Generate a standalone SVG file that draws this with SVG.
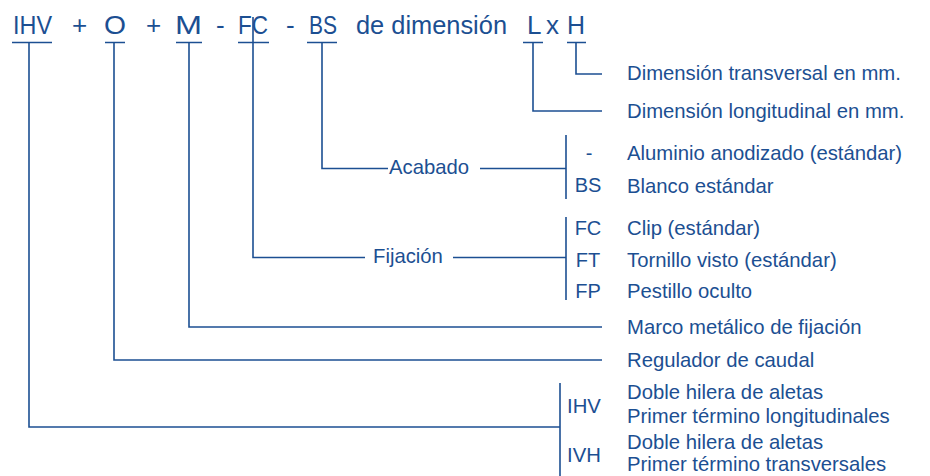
<svg xmlns="http://www.w3.org/2000/svg" width="930" height="476" viewBox="0 0 930 476">
<style>
.t{font-family:"Liberation Sans",Arial,sans-serif;fill:#1c4f92}
.big{font-size:26px}
.d{font-size:20.3px}
.c{font-size:20px;text-anchor:middle}
.ln{stroke:#1c4f92;stroke-width:1.6;fill:none}
</style>
<rect width="930" height="476" fill="#fff"/>
<g id="code-line" class="t big">
<text x="13" y="34" textLength="39" lengthAdjust="spacingAndGlyphs">IHV</text>
<text x="72" y="34">+</text>
<text x="104" y="34" textLength="22" lengthAdjust="spacingAndGlyphs">O</text>
<text x="146" y="34">+</text>
<text x="175" y="34" textLength="27" lengthAdjust="spacingAndGlyphs">M</text>
<text x="216" y="34">-</text>
<text x="238" y="34" textLength="30" lengthAdjust="spacingAndGlyphs">FC</text>
<text x="286" y="34">-</text>
<text x="309" y="34" textLength="28" lengthAdjust="spacingAndGlyphs">BS</text>
<text x="356" y="34" textLength="151" lengthAdjust="spacingAndGlyphs">de dimensión</text>
<text x="527" y="34">L</text>
<text x="546" y="34">x</text>
<text x="567" y="34" textLength="18" lengthAdjust="spacingAndGlyphs">H</text>
</g>
<g id="connectors" class="ln">
<path d="M12 42.5H52M105 42.5H125M176 42.5H202M238 42.5H269M307 42.5H337M523 42.5H543M567 42.5H586"/>
<path d="M576 42.5V74H602"/>
<path d="M533 42.5V111H602"/>
<path d="M322 42.5V168.5H388M480 168.5H566"/>
<path d="M566 135V199"/>
<path d="M253 17V257.5H365M453 257.5H566"/>
<path d="M566 217V300"/>
<path d="M189 42.5V327H602"/>
<path d="M114 42.5V360H602"/>
<path d="M29 42.5V427H560"/>
<path d="M560 383V476"/>
</g>
<g id="dim-h" class="t"><text class="d" x="627" y="80">Dimensión transversal en mm.</text></g>
<g id="dim-l" class="t"><text class="d" x="627" y="118">Dimensión longitudinal en mm.</text></g>
<g id="acabado" class="t"><text class="d" x="389" y="174">Acabado</text></g>
<g id="acabado-std" class="t"><text class="c" x="589" y="160">-</text><text class="d" x="627" y="160">Aluminio anodizado (estándar)</text></g>
<g id="acabado-bs" class="t"><text class="c" x="588" y="192">BS</text><text class="d" x="627" y="193">Blanco estándar</text></g>
<g id="fijacion" class="t"><text class="d" x="373" y="263">Fijación</text></g>
<g id="fij-fc" class="t"><text class="c" x="588" y="235">FC</text><text class="d" x="627" y="235">Clip (estándar)</text></g>
<g id="fij-ft" class="t"><text class="c" x="588" y="267">FT</text><text class="d" x="627" y="267">Tornillo visto (estándar)</text></g>
<g id="fij-fp" class="t"><text class="c" x="588" y="298">FP</text><text class="d" x="627" y="298">Pestillo oculto</text></g>
<g id="marco" class="t"><text class="d" x="627" y="334">Marco metálico de fijación</text></g>
<g id="regulador" class="t"><text class="d" x="627" y="367">Regulador de caudal</text></g>
<g id="ihv" class="t"><text class="d" x="567" y="413">IHV</text><text class="d" x="627" y="399">Doble hilera de aletas</text><text class="d" x="627" y="423">Primer término longitudinales</text></g>
<g id="ivh" class="t"><text class="d" x="567" y="462">IVH</text><text class="d" x="627" y="449">Doble hilera de aletas</text><text class="d" x="627" y="471">Primer término transversales</text></g>
</svg>
